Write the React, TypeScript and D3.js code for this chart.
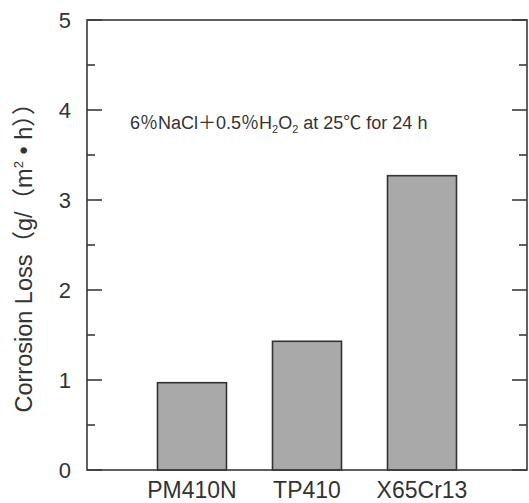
import React from "react";
import * as d3 from "d3";

const categories = ["PM410N", "TP410", "X65Cr13"];
const values = [0.97, 1.43, 3.27];
const yMajorTicks = [0, 1, 2, 3, 4, 5];
const yMinorTicks = [0.5, 1.5, 2.5, 3.5, 4.5];

const W = 529, H = 503;
const L = 87, R = 527, T = 20, B = 470;
const FONT = "'Liberation Sans', Arial, 'Noto Sans CJK JP', sans-serif";

export default function App() {
  const x = d3.scaleBand<string>().domain(categories).range([L, R]).paddingInner(0.4).paddingOuter(0.613);
  const y = d3.scaleLinear().domain([0, 5]).range([B, T]);
  const stroke = "#3a3a3a";
  return (
    <svg width={W} height={H} style={{ position: "absolute", left: 0, top: 0, background: "#fff" }} fontFamily={FONT}>
      {categories.map((c, i) => (
        <rect key={c} x={x(c)} y={y(values[i])} width={x.bandwidth()} height={y(0) - y(values[i])}
          fill="#a9a9a9" stroke="#333" strokeWidth={1.6} />
      ))}
      <rect x={L} y={T} width={R - L} height={B - T} fill="none" stroke={stroke} strokeWidth={1.6} />
      {yMajorTicks.map(t => (
        <g key={"M" + t}>
          <line x1={L} x2={L + 15} y1={y(t)} y2={y(t)} stroke={stroke} strokeWidth={1.6} />
          <line x1={R} x2={R - 15} y1={y(t)} y2={y(t)} stroke={stroke} strokeWidth={1.6} />
          <text x={71} y={y(t)} dy="0.36em" textAnchor="end" fontSize={22} fill="#333">{t}</text>
        </g>
      ))}
      {yMinorTicks.map(t => (
        <g key={"m" + t}>
          <line x1={L} x2={L + 8} y1={y(t)} y2={y(t)} stroke={stroke} strokeWidth={1.6} />
          <line x1={R} x2={R - 8} y1={y(t)} y2={y(t)} stroke={stroke} strokeWidth={1.6} />
        </g>
      ))}
      {categories.map(c => (
        <text key={"l" + c} x={(x(c) as number) + x.bandwidth() / 2} y={498} textAnchor="middle" fontSize={23} fill="#333">{c}</text>
      ))}
      <text transform={`translate(32,252) rotate(-90)`} textAnchor="middle" fontSize={23.5} fill="#333">
        Corrosion Loss（g/（m<tspan fontSize={13} dy={-9}>2</tspan><tspan dy={9}> • h））</tspan>
      </text>
      <text x={130} y={129} fontSize={18} fill="#333">
        6％NaCl＋0.5％H<tspan fontSize={11} dy={4}>2</tspan><tspan dy={-4}>O</tspan><tspan fontSize={11} dy={4}>2</tspan><tspan dy={-4}> at 25℃ for 24 h</tspan>
      </text>
    </svg>
  );
}
